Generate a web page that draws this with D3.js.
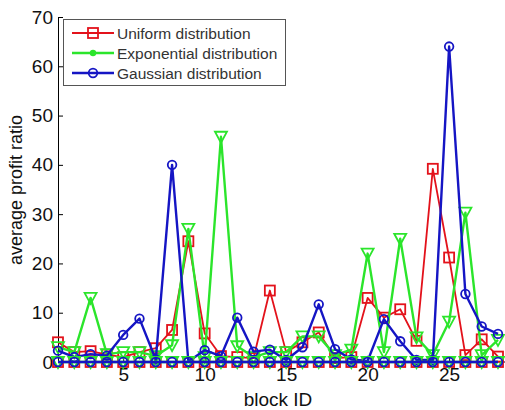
<!DOCTYPE html>
<html>
<head>
<meta charset="utf-8">
<script src="https://cdn.jsdelivr.net/npm/d3@7"></script>
<style>
  body { margin: 0; background: #fff; }
  svg { display: block; font-family: Arial, "Liberation Sans", sans-serif; }
</style>
</head>
<body>
<svg id="chart" width="505" height="410"></svg>
<script>
'use strict';

// block IDs 1..28
var blockIds = [1, 2, 3, 4, 5, 6, 7, 8, 9, 10, 11, 12, 13, 14, 15, 16, 17, 18, 19, 20, 21, 22, 23, 24, 25, 26, 27, 28];

var uniformValues = [4, 2, 2.2, 1.5, 1, 2, 2.8, 6.5, 24.5, 5.8, 1.2, 1, 0.8, 14.5, 2, 4, 6, 0.8, 1, 13, 9, 10.7, 4.3, 39.2, 21.2, 1.4, 4.6, 1.1];
var exponentialValues = [3, 2, 13, 1.6, 2, 2, 1.2, 3.4, 27, 1, 45.7, 3.2, 1, 2, 2, 5.2, 5.2, 1.4, 2.5, 22, 2, 25, 5, 1.4, 8.2, 30.3, 1.4, 4.5];
var gaussianValues = [2.3, 1, 1.6, 1.3, 5.5, 8.8, 0.5, 40, 0.1, 2.4, 1.2, 9, 2.1, 2.5, 0.4, 3, 11.7, 2.6, 0.5, 0.2, 8.7, 4.2, 0.4, 0.4, 64, 13.8, 7.2, 5.7];
// second line of every series sits on zero
var zeroValues = [0, 0, 0, 0, 0, 0, 0, 0, 0, 0, 0, 0, 0, 0, 0, 0, 0, 0, 0, 0, 0, 0, 0, 0, 0, 0, 0, 0];

var seriesNames = ['Uniform distribution', 'Exponential distribution', 'Gaussian distribution'];
var yTicks = [0, 10, 20, 30, 40, 50, 60, 70];
var xTicks = [5, 10, 15, 20, 25];

var colors = ['#e3121b', '#2be52b', '#1515c4'];
var markers = ['square', 'triangle', 'circle'];
var widths = [1.8, 2.4, 2.4];

var svg = d3.select('#chart');

var x = d3.scaleLinear().domain([1, 28]).range([58, 498]);
var y = d3.scaleLinear().domain([0, 70]).range([362, 17]);

var line = d3.line()
  .x(function(d, i) { return x(blockIds[i]); })
  .y(function(d) { return y(d); });

function drawMarker(g, type, color, cx, cy) {
  if (type === 'square') {
    g.append('rect')
      .attr('x', cx - 5).attr('y', cy - 5)
      .attr('width', 10).attr('height', 10)
      .attr('fill', 'none').attr('stroke', color).attr('stroke-width', 1.8);
  } else if (type === 'circle') {
    g.append('circle')
      .attr('cx', cx).attr('cy', cy).attr('r', 4.3)
      .attr('fill', 'none').attr('stroke', color).attr('stroke-width', 1.8);
  } else if (type === 'triangle') {
    g.append('path')
      .attr('d', 'M' + (cx - 6) + ',' + (cy - 5) + 'L' + (cx + 6) + ',' + (cy - 5) + 'L' + cx + ',' + (cy + 6) + 'Z')
      .attr('fill', 'none').attr('stroke', color).attr('stroke-width', 1.8);
  } else if (type === 'dot') {
    g.append('circle')
      .attr('cx', cx).attr('cy', cy).attr('r', 3.2)
      .attr('fill', color);
  }
}

function drawSeries(values, k) {
  var g = svg.append('g');
  g.append('path')
    .datum(values)
    .attr('d', line)
    .attr('fill', 'none')
    .attr('stroke', colors[k])
    .attr('stroke-width', widths[k])
    .attr('stroke-linejoin', 'round');
  values.forEach(function(v, i) {
    drawMarker(g, markers[k], colors[k], x(blockIds[i]), y(v));
  });
}

// axes (MATLAB style, ticks inside)
var yAxis = d3.axisLeft(y).tickValues(yTicks).tickSizeInner(-5).tickSizeOuter(0).tickPadding(5);
var xAxis = d3.axisBottom(x).tickValues(xTicks).tickSizeInner(-5).tickSizeOuter(0).tickPadding(6);

var gy = svg.append('g').attr('transform', 'translate(58,0)').call(yAxis);
var gx = svg.append('g').attr('transform', 'translate(0,362)').call(xAxis);
[gx, gy].forEach(function(g) {
  g.select('.domain').attr('stroke', '#000').attr('stroke-width', 1);
  g.selectAll('.tick line').attr('stroke', '#000');
  g.selectAll('.tick text').attr('fill', '#111').style('font-size', '19px');
});
gx.select('.domain').attr('d', 'M58,0H505');

[uniformValues, exponentialValues, gaussianValues].forEach(drawSeries);
[zeroValues, zeroValues, zeroValues].forEach(drawSeries);

// labels
svg.append('text')
  .attr('x', 278).attr('y', 406)
  .attr('text-anchor', 'middle')
  .attr('fill', '#111')
  .style('font-size', '19px')
  .text('block ID');

svg.append('text')
  .attr('transform', 'translate(22,190) rotate(-90)')
  .attr('text-anchor', 'middle')
  .attr('fill', '#111')
  .style('font-size', '18px')
  .text('average profit ratio');

// legend
var legend = svg.append('g');
legend.append('rect')
  .attr('x', 63.5).attr('y', 19.5)
  .attr('width', 222).attr('height', 66)
  .attr('fill', '#fff').attr('stroke', '#555').attr('stroke-width', 1);

var legendMarkers = ['square', 'dot', 'circle'];
seriesNames.forEach(function(name, k) {
  var ly = 33 + k * 20;
  legend.append('line')
    .attr('x1', 72).attr('x2', 114).attr('y1', ly).attr('y2', ly)
    .attr('stroke', colors[k]).attr('stroke-width', widths[k]);
  drawMarker(legend, legendMarkers[k], colors[k], 93, ly);
  legend.append('text')
    .attr('x', 117).attr('y', ly + 5.5)
    .style('font-size', '15.5px')
    .attr('fill', '#333')
    .text(name);
});
</script>
</body>
</html>
